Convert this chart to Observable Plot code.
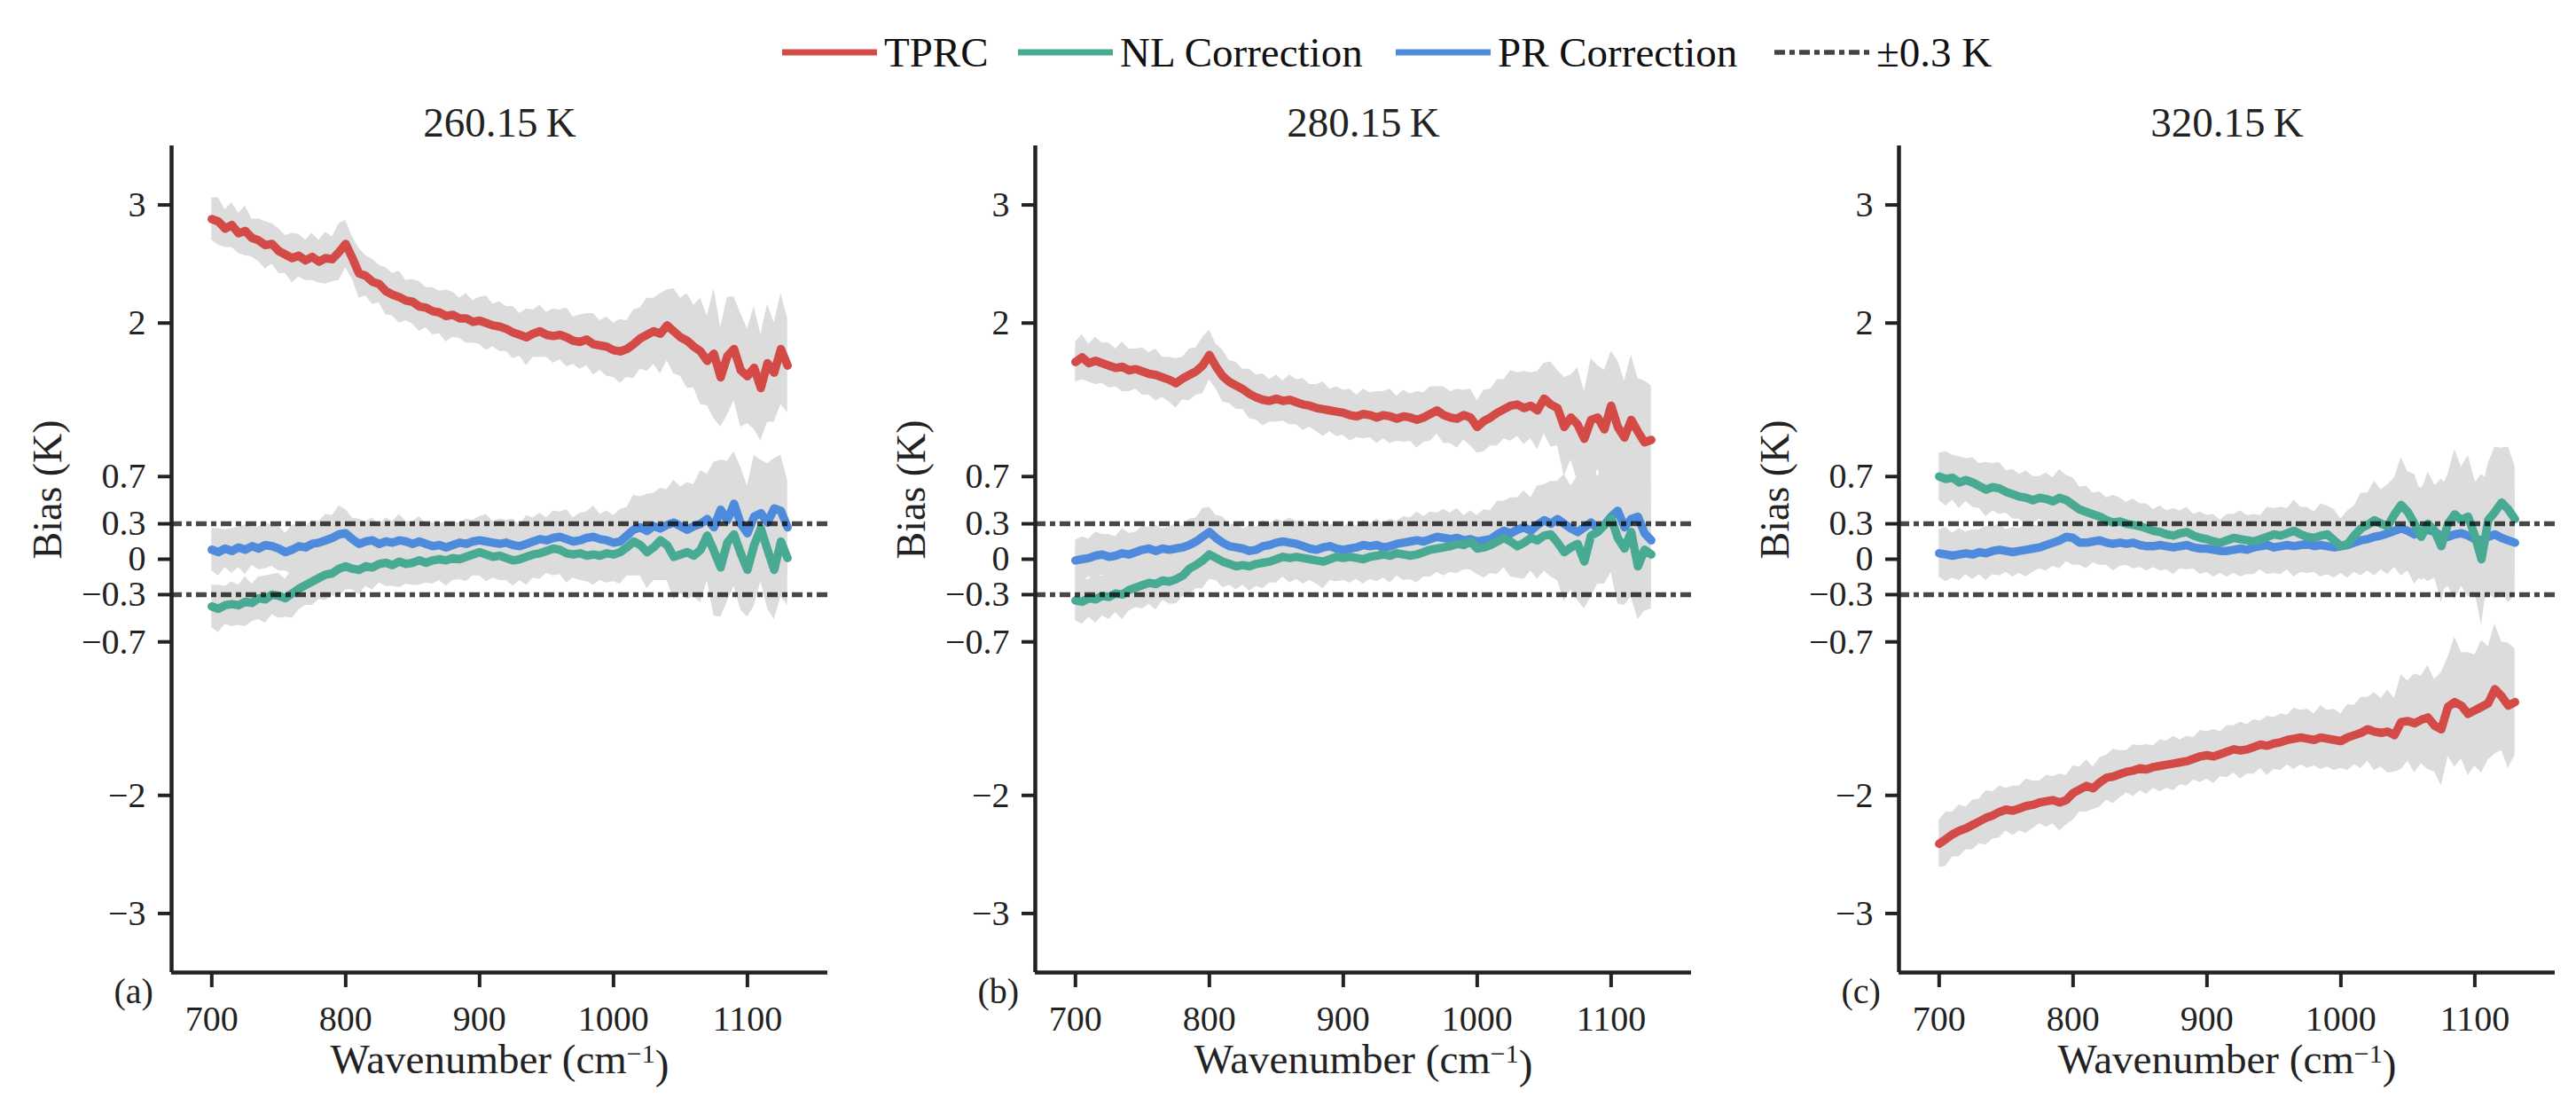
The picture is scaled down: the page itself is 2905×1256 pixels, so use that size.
<!DOCTYPE html>
<html>
<head>
<meta charset="utf-8">
<script src="https://cdn.jsdelivr.net/npm/d3@7"></script>
<script src="https://cdn.jsdelivr.net/npm/@observablehq/plot@0.6"></script>
<style>
  html, body { margin: 0; padding: 0; background: #fff; overflow: hidden; }
  #wrap { position: relative; width: 2905px; height: 1256px; font-family: "Liberation Serif", "Times New Roman", Tinos, "DejaVu Serif", serif; color: #111; }
  .item { position: absolute; top: 34px; height: 50px; display: flex; align-items: center; font-size: 47px; white-space: nowrap; }
  .item svg { margin-right: 8px; }
  .panel { position: absolute; top: 90px; width: 957px; }
  .panel svg { max-width: none !important; }
</style>
</head>
<body>
<div id="wrap"></div>
<script>
// wavenumber grid (cm^-1), one value every 5 cm^-1
const wavenumber = d3.range(700, 1131, 5);

// ---- 260.15 K ----
const tprc260 = [
  2.88, 2.86, 2.80, 2.83, 2.76, 2.78, 2.72, 2.70, 2.66, 2.67,
  2.61, 2.58, 2.55, 2.57, 2.53, 2.56, 2.52, 2.55, 2.54, 2.60,
  2.67, 2.55, 2.42, 2.40, 2.35, 2.33, 2.27, 2.24, 2.22, 2.19,
  2.18, 2.14, 2.13, 2.10, 2.09, 2.06, 2.07, 2.04, 2.04, 2.01,
  2.02, 2.00, 1.98, 1.97, 1.95, 1.92, 1.90, 1.88, 1.91, 1.93,
  1.90, 1.89, 1.90, 1.88, 1.85, 1.84, 1.86, 1.82, 1.81, 1.80,
  1.77, 1.76, 1.78, 1.82, 1.87, 1.90, 1.93, 1.91, 1.98, 1.93,
  1.88, 1.85, 1.80, 1.76, 1.68, 1.74, 1.54, 1.72, 1.78, 1.60,
  1.55, 1.62, 1.45, 1.66, 1.58, 1.78, 1.64
];
const nl260 = [
  -0.40, -0.42, -0.39, -0.38, -0.39, -0.36, -0.37, -0.33, -0.34, -0.30,
  -0.31, -0.33, -0.29, -0.25, -0.22, -0.19, -0.16, -0.13, -0.12, -0.08,
  -0.06, -0.08, -0.09, -0.06, -0.07, -0.04, -0.03, -0.05, -0.02, -0.04,
  -0.03, -0.01, -0.03, -0.01, 0.00, -0.01, 0.01, 0.00, 0.02, 0.04,
  0.06, 0.04, 0.02, 0.03, 0.01, -0.01, 0.00, 0.02, 0.04, 0.05,
  0.07, 0.09, 0.08, 0.05, 0.04, 0.05, 0.03, 0.04, 0.03, 0.05,
  0.04, 0.06, 0.10, 0.15, 0.12, 0.06, 0.10, 0.16, 0.12, 0.02,
  0.04, 0.06, 0.03, 0.08, 0.20, 0.07, -0.07, 0.14, 0.21, 0.05,
  -0.09, 0.12, 0.26, 0.08, -0.09, 0.15, 0.01
];
const pr260 = [
  0.08, 0.06, 0.09, 0.07, 0.10, 0.08, 0.11, 0.09, 0.12, 0.11,
  0.09, 0.06, 0.08, 0.11, 0.10, 0.13, 0.14, 0.16, 0.18, 0.21,
  0.22, 0.17, 0.13, 0.15, 0.16, 0.13, 0.15, 0.14, 0.16, 0.15,
  0.13, 0.15, 0.13, 0.11, 0.12, 0.10, 0.12, 0.14, 0.13, 0.15,
  0.16, 0.15, 0.14, 0.13, 0.14, 0.12, 0.11, 0.13, 0.15, 0.17,
  0.16, 0.18, 0.19, 0.17, 0.15, 0.16, 0.18, 0.19, 0.17, 0.16,
  0.14, 0.15, 0.20, 0.25, 0.27, 0.24, 0.28, 0.26, 0.29, 0.31,
  0.28, 0.25, 0.28, 0.30, 0.34, 0.27, 0.42, 0.33, 0.47, 0.30,
  0.22, 0.36, 0.39, 0.31, 0.43, 0.41, 0.27
];
const spread260 = [
  0.18, 0.20, 0.16, 0.19, 0.17, 0.21, 0.16, 0.18, 0.20, 0.17,
  0.19, 0.16, 0.21, 0.18, 0.17, 0.20, 0.18, 0.22, 0.19, 0.24,
  0.20, 0.18, 0.21, 0.17, 0.19, 0.16, 0.20, 0.18, 0.22, 0.17,
  0.19, 0.21, 0.17, 0.20, 0.18, 0.22, 0.19, 0.17, 0.21, 0.18,
  0.20, 0.23, 0.18, 0.21, 0.19, 0.22, 0.18, 0.24, 0.20, 0.22,
  0.19, 0.23, 0.21, 0.25, 0.20, 0.23, 0.22, 0.26, 0.21, 0.25,
  0.23, 0.27, 0.24, 0.29, 0.26, 0.31, 0.28, 0.34, 0.30, 0.36,
  0.33, 0.40, 0.35, 0.45, 0.38, 0.55, 0.42, 0.50, 0.44, 0.48,
  0.40, 0.52, 0.45, 0.50, 0.42, 0.47, 0.40
];

// ---- 280.15 K ----
const tprc280 = [
  1.67, 1.71, 1.66, 1.68, 1.66, 1.64, 1.62, 1.63, 1.60, 1.61,
  1.59, 1.57, 1.56, 1.54, 1.52, 1.49, 1.53, 1.56, 1.59, 1.64,
  1.73, 1.63, 1.55, 1.50, 1.47, 1.44, 1.40, 1.37, 1.35, 1.34,
  1.36, 1.34, 1.35, 1.33, 1.31, 1.30, 1.28, 1.27, 1.26, 1.25,
  1.24, 1.22, 1.21, 1.23, 1.22, 1.20, 1.22, 1.21, 1.19, 1.21,
  1.20, 1.18, 1.20, 1.23, 1.26, 1.22, 1.20, 1.19, 1.22, 1.20,
  1.12, 1.17, 1.20, 1.24, 1.27, 1.30, 1.31, 1.28, 1.30, 1.26,
  1.36, 1.31, 1.28, 1.12, 1.20, 1.14, 1.02, 1.18, 1.20, 1.10,
  1.30, 1.12, 1.03, 1.18, 1.08, 0.99, 1.01
];
const nl280 = [
  -0.35, -0.36, -0.33, -0.34, -0.31, -0.32, -0.29, -0.30, -0.26, -0.24,
  -0.22, -0.20, -0.21, -0.18, -0.19, -0.17, -0.14, -0.08, -0.05, -0.01,
  0.04, 0.01, -0.02, -0.04, -0.06, -0.05, -0.06, -0.04, -0.03, -0.02,
  0.00, 0.02, 0.01, 0.02, 0.01, 0.00, -0.01, -0.02, 0.00, 0.02,
  0.01, 0.02, 0.01, 0.00, 0.02, 0.03, 0.04, 0.03, 0.05, 0.04,
  0.03, 0.04, 0.06, 0.08, 0.09, 0.10, 0.11, 0.13, 0.12, 0.15,
  0.09, 0.10, 0.12, 0.15, 0.18, 0.15, 0.11, 0.14, 0.18, 0.16,
  0.20, 0.21, 0.14, 0.06, 0.10, 0.13, -0.02, 0.20, 0.23, 0.29,
  0.35, 0.18, 0.09, 0.23, -0.06, 0.08, 0.04
];
const pr280 = [
  -0.01, 0.00, 0.01, 0.03, 0.04, 0.02, 0.03, 0.05, 0.04, 0.06,
  0.08, 0.09, 0.07, 0.09, 0.08, 0.09, 0.10, 0.12, 0.15, 0.19,
  0.23, 0.18, 0.14, 0.11, 0.10, 0.09, 0.07, 0.08, 0.11, 0.12,
  0.14, 0.15, 0.14, 0.13, 0.11, 0.09, 0.08, 0.10, 0.11, 0.09,
  0.08, 0.09, 0.10, 0.12, 0.11, 0.12, 0.10, 0.11, 0.13, 0.14,
  0.15, 0.16, 0.15, 0.17, 0.19, 0.18, 0.17, 0.18, 0.16, 0.17,
  0.15, 0.16, 0.17, 0.21, 0.24, 0.22, 0.25, 0.27, 0.24, 0.29,
  0.33, 0.30, 0.34, 0.30, 0.26, 0.23, 0.27, 0.31, 0.26, 0.29,
  0.36, 0.41, 0.27, 0.34, 0.36, 0.22, 0.16
];
const spread280 = [
  0.17, 0.19, 0.16, 0.20, 0.17, 0.19, 0.16, 0.21, 0.18, 0.17,
  0.20, 0.18, 0.22, 0.17, 0.19, 0.21, 0.18, 0.22, 0.20, 0.24,
  0.21, 0.19, 0.22, 0.18, 0.20, 0.17, 0.21, 0.19, 0.22, 0.18,
  0.20, 0.17, 0.21, 0.19, 0.22, 0.18, 0.20, 0.23, 0.18, 0.21,
  0.19, 0.22, 0.18, 0.21, 0.19, 0.22, 0.20, 0.23, 0.19, 0.22,
  0.20, 0.24, 0.21, 0.23, 0.20, 0.24, 0.22, 0.25, 0.21, 0.24,
  0.22, 0.26, 0.24, 0.28, 0.25, 0.30, 0.27, 0.31, 0.28, 0.33,
  0.30, 0.36, 0.32, 0.42, 0.36, 0.48, 0.40, 0.52, 0.44, 0.50,
  0.46, 0.56, 0.48, 0.55, 0.45, 0.52, 0.46
];

// ---- 320.15 K ----
const tprc320 = [
  -2.41, -2.37, -2.33, -2.30, -2.28, -2.25, -2.22, -2.19, -2.17, -2.14,
  -2.12, -2.13, -2.11, -2.09, -2.08, -2.06, -2.05, -2.04, -2.06, -2.04,
  -1.98, -1.95, -1.92, -1.94, -1.89, -1.85, -1.84, -1.82, -1.80, -1.79,
  -1.77, -1.78, -1.76, -1.75, -1.74, -1.73, -1.72, -1.71, -1.69, -1.67,
  -1.66, -1.67, -1.65, -1.63, -1.61, -1.62, -1.61, -1.59, -1.57, -1.58,
  -1.56, -1.55, -1.53, -1.52, -1.51, -1.52, -1.53, -1.51, -1.52, -1.53,
  -1.54, -1.51, -1.49, -1.47, -1.44, -1.46, -1.47, -1.46, -1.49, -1.38,
  -1.37, -1.39, -1.36, -1.34, -1.41, -1.44, -1.25, -1.21, -1.24, -1.31,
  -1.28, -1.25, -1.22, -1.10, -1.16, -1.24, -1.21
];
const nl320 = [
  0.70, 0.68, 0.69, 0.65, 0.67, 0.65, 0.62, 0.59, 0.61, 0.60,
  0.57, 0.55, 0.53, 0.52, 0.50, 0.52, 0.51, 0.49, 0.52, 0.50,
  0.46, 0.42, 0.40, 0.38, 0.36, 0.33, 0.31, 0.32, 0.30, 0.29,
  0.28, 0.26, 0.24, 0.23, 0.21, 0.20, 0.22, 0.23, 0.20, 0.18,
  0.17, 0.15, 0.14, 0.16, 0.18, 0.17, 0.16, 0.15, 0.17, 0.19,
  0.21, 0.20, 0.22, 0.24, 0.21, 0.19, 0.18, 0.20, 0.21, 0.16,
  0.11, 0.13, 0.20, 0.26, 0.29, 0.33, 0.30, 0.28, 0.38, 0.46,
  0.40, 0.30, 0.19, 0.30, 0.24, 0.11, 0.30, 0.38, 0.33, 0.36,
  0.20, 0.00, 0.33, 0.40, 0.48, 0.42, 0.34
];
const pr320 = [
  0.05, 0.04, 0.03, 0.04, 0.05, 0.04, 0.06, 0.05, 0.07, 0.08,
  0.07, 0.06, 0.07, 0.08, 0.09, 0.10, 0.12, 0.14, 0.16, 0.19,
  0.18, 0.14, 0.14, 0.15, 0.16, 0.14, 0.13, 0.14, 0.13, 0.14,
  0.12, 0.11, 0.11, 0.12, 0.11, 0.10, 0.11, 0.12, 0.10, 0.09,
  0.09, 0.08, 0.07, 0.07, 0.08, 0.09, 0.08, 0.10, 0.11, 0.12,
  0.10, 0.11, 0.12, 0.11, 0.12, 0.13, 0.11, 0.12, 0.11, 0.10,
  0.11, 0.12, 0.14, 0.16, 0.17, 0.19, 0.20, 0.22, 0.24, 0.26,
  0.24, 0.21, 0.23, 0.25, 0.23, 0.20, 0.19, 0.21, 0.22, 0.20,
  0.17, 0.16, 0.19, 0.21, 0.18, 0.16, 0.14
];
const spread320 = [
  0.20, 0.23, 0.19, 0.22, 0.18, 0.21, 0.19, 0.23, 0.20, 0.22,
  0.18, 0.21, 0.19, 0.23, 0.20, 0.18, 0.22, 0.20, 0.24, 0.21,
  0.23, 0.19, 0.22, 0.18, 0.21, 0.19, 0.23, 0.20, 0.18, 0.22,
  0.19, 0.21, 0.18, 0.22, 0.20, 0.23, 0.19, 0.21, 0.18, 0.22,
  0.20, 0.23, 0.19, 0.22, 0.20, 0.24, 0.21, 0.23, 0.20, 0.25,
  0.22, 0.24, 0.21, 0.26, 0.23, 0.25, 0.22, 0.27, 0.24, 0.26,
  0.23, 0.28, 0.25, 0.30, 0.27, 0.33, 0.29, 0.35, 0.31, 0.40,
  0.34, 0.42, 0.37, 0.44, 0.39, 0.48, 0.42, 0.55, 0.45, 0.52,
  0.47, 0.56, 0.48, 0.55, 0.46, 0.53, 0.45
];

const yTicks = [3, 2, 0.7, 0.3, 0, -0.3, -0.7, -2, -3];
const xTicks = [700, 800, 900, 1000, 1100];
const limit = 0.3;

const colors = {TPRC: "#d34a47", NL: "#48aa93", PR: "#4f8bdc"};
const dash = "12,5,6,5";
const ink = "#222";
const serif = '"Liberation Serif", "Times New Roman", Tinos, "DejaVu Serif", serif';

const wrap = d3.select("#wrap");

// legend
const legendItems = [
  {label: "TPRC", color: colors.TPRC, left: 882},
  {label: "NL Correction", color: colors.NL, left: 1148},
  {label: "PR Correction", color: colors.PR, left: 1574},
  {label: "\u00b10.3 K", color: "#444", left: 2001, dashed: true}
];
legendItems.forEach((it) => {
  const div = wrap.append("div").attr("class", "item").style("left", it.left + "px");
  const sw = div.append("svg").attr("width", 107).attr("height", 12);
  sw.append("line")
    .attr("x1", 0).attr("x2", 107).attr("y1", 6).attr("y2", 6)
    .attr("stroke", it.color)
    .attr("stroke-width", it.dashed ? 5.5 : 7)
    .attr("stroke-dasharray", it.dashed ? dash : null);
  div.append("span").text(it.label);
});

const fmt = (d) => (d === 0 ? "0" : (d < 0 ? "\u2212" : "") + Math.abs(d));

function panel(left, title, tag, tprc, nl, pr, spread) {
  const rows = (vals) => wavenumber.map((w, i) => ({w, v: vals[i], s: spread[i]}));
  const band = (vals) =>
    Plot.areaY(rows(vals), {x: "w", y1: (d) => d.v - d.s, y2: (d) => d.v + d.s, fill: "#dcdcdc"});
  const line = (vals, c) =>
    Plot.lineY(rows(vals), {x: "w", y: "v", stroke: c, strokeWidth: 9.5, strokeLinejoin: "round"});

  const chart = Plot.plot({
    width: 957,
    height: 1166,
    marginLeft: 193,
    marginRight: 24,
    marginTop: 74,
    marginBottom: 160,
    x: {domain: [670, 1160]},
    y: {domain: [-3.5, 3.5]},
    style: {fontFamily: serif, fontSize: "40px", color: ink, background: "white"},
    marks: [
      band(tprc),
      band(pr),
      band(nl),
      line(tprc, colors.TPRC),
      line(pr, colors.PR),
      line(nl, colors.NL),
      Plot.ruleY([limit, -limit], {stroke: "black", strokeOpacity: 0.72, strokeWidth: 5.5, strokeDasharray: dash}),
      Plot.ruleX([670], {y1: -3.5, y2: 3.5, stroke: ink, strokeWidth: 4.5}),
      Plot.ruleY([-3.5], {x1: 670, x2: 1160, stroke: ink, strokeWidth: 4.5}),
      Plot.axisY({ticks: yTicks, tickFormat: fmt, tickSize: 15, tickPadding: 14, strokeWidth: 4, fontSize: 40, label: null}),
      Plot.axisX({ticks: xTicks, tickFormat: (d) => String(d), tickSize: 17, tickPadding: 20, strokeWidth: 4, fontSize: 40, label: null}),
      Plot.text([title], {frameAnchor: "top", dy: -44, fontSize: 47}),
      Plot.text(["Bias (K)"], {frameAnchor: "left", dx: -139, rotate: -90, fontSize: 46}),
      Plot.text(["Wavenumber (cm\u207b\u00b9)"], {frameAnchor: "bottom", dy: 113, fontSize: 47}),
      Plot.text([tag], {frameAnchor: "bottom-left", dx: -65, dy: 34, fontSize: 40})
    ]
  });

  // superscript for the unit
  d3.select(chart).selectAll("text").each(function () {
    if (this.textContent === "Wavenumber (cm\u207b\u00b9)") {
      const t = d3.select(this);
      t.text("");
      t.append("tspan").text("Wavenumber (cm");
      t.append("tspan").attr("dy", "-0.4em").attr("font-size", "30px").text("\u22121");
      t.append("tspan").attr("dy", "0.4em").text(")");
    }
  });

  wrap.append("div").attr("class", "panel").style("left", left + "px").append(() => chart);
}

panel(0, "260.15\u2009K", "(a)", tprc260, nl260, pr260, spread260);
panel(974, "280.15\u2009K", "(b)", tprc280, nl280, pr280, spread280);
panel(1948, "320.15\u2009K", "(c)", tprc320, nl320, pr320, spread320);
</script>
</body>
</html>
